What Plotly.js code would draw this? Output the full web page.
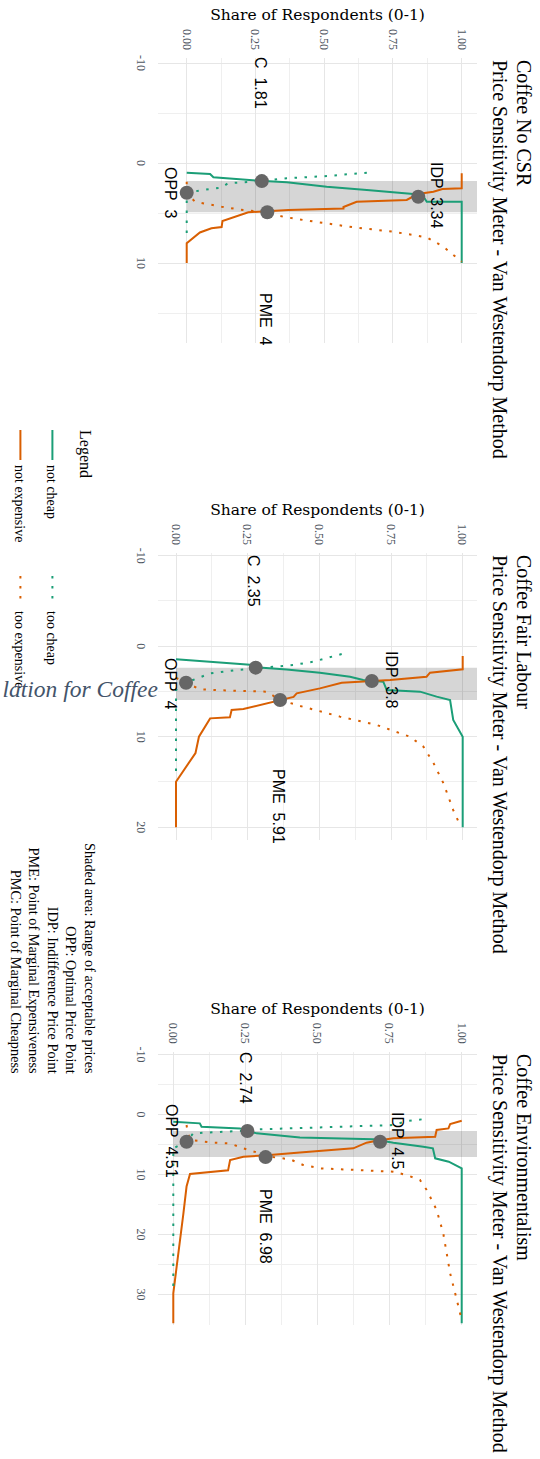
<!DOCTYPE html>
<html>
<head>
<meta charset="utf-8">
<script src="https://cdn.plot.ly/plotly-3.0.1.min.js"></script>
<style>
html,body{margin:0;padding:0;background:#ffffff;overflow:hidden;width:540px;height:1459px;}
#wrap{position:absolute;left:0;top:0;width:1459px;height:540px;transform-origin:0 0;}
</style>
</head>
<body>
<div id="wrap"></div>
<script>
// ---------------- DATA ----------------
const panelTitles = ["Coffee No CSR", "Coffee Fair Labour", "Coffee Environmentalism"];
const subtitle = "Price Sensitivity Meter - Van Westendorp Method";
const yTitle = "Share of Respondents (0-1)";
const legendTitle = "Legend";
const seriesNames = ["not cheap", "not expensive", "too cheap", "too expensive"];
const shareTicks = [0, 0.25, 0.5, 0.75, 1];
const shareTickText = ["0.00", "0.25", "0.50", "0.75", "1.00"];
const p1PriceTicks = [-10, 0, 10];
const p2PriceTicks = [-10, 0, 10, 20];
const p3PriceTicks = [-10, 0, 10, 20, 30];
const captionLines = ["Shaded area: Range of acceptable prices", "OPP: Optimal Price Point",
  "IDP: Indifference Price Point", "PME: Point of Marginal Expensiveness", "PMC: Point of Marginal Cheapness"];
const backgroundText = "lation for Coffee";

// Panel 1: Coffee No CSR
const p1NotCheapPrice = [0.97, 1.1, 1.43, 1.63, 1.77, 1.93, 2.37, 2.7, 2.93, 3.1, 3.37, 3.87, 3.87, 10.0];
const p1NotCheapShare = [0.0, 0.085, 0.097, 0.224, 0.267, 0.364, 0.509, 0.655, 0.752, 0.824, 0.861, 0.873, 1.0, 1.0];
const p1NotExpPrice = [1.03, 2.53, 2.6, 2.87, 3.1, 3.37, 3.7, 3.87, 4.4, 4.55, 4.7, 4.93, 5.8, 6.4, 6.53, 6.95, 8.03, 10.0];
const p1NotExpShare = [1.0, 1.0, 0.93, 0.897, 0.84, 0.824, 0.8, 0.618, 0.57, 0.57, 0.37, 0.224, 0.13, 0.127, 0.09, 0.048, 0.0, 0.0];
const p1TooCheapPrice = [0.97, 1.3, 1.53, 1.8, 2.03, 2.45, 2.7, 2.97, 7.6];
const p1TooCheapShare = [0.655, 0.51, 0.364, 0.27, 0.15, 0.127, 0.06, 0.0, 0.0];
const p1TooExpPrice = [1.87, 3.0, 3.87, 4.37, 4.7, 4.93, 5.37, 5.7, 6.43, 6.87, 7.43, 8.37, 9.87];
const p1TooExpShare = [0.0, 0.0, 0.03, 0.127, 0.206, 0.29, 0.35, 0.424, 0.606, 0.75, 0.873, 0.933, 1.0];
const p1PointPrice = [1.81, 2.97, 3.37, 4.93];
const p1PointShare = [0.273, 0.0, 0.842, 0.293];
const p1PointLabels = ["C  1.81", "OPP  3", "IDP  3.34", "PME  4"];
const p1Acceptable = [1.81, 4.93];

// Panel 2: Coffee Fair Labour
const p2NotCheapPrice = [1.45, 1.78, 2.08, 2.35, 2.56, 2.92, 3.37, 3.73, 3.92, 4.84, 5.02, 5.57, 5.94, 8.15, 10.0, 20.0];
const p2NotCheapShare = [0.0, 0.153, 0.27, 0.29, 0.386, 0.502, 0.607, 0.653, 0.723, 0.735, 0.851, 0.909, 0.956, 0.967, 1.0, 1.0];
const p2NotExpPrice = [1.08, 2.55, 2.92, 3.37, 3.73, 4.03, 4.66, 5.21, 5.6, 5.94, 6.94, 7.05, 7.86, 7.97, 10.0, 11.8, 14.97, 20.0];
const p2NotExpShare = [1.0, 1.0, 0.886, 0.874, 0.747, 0.578, 0.502, 0.421, 0.41, 0.363, 0.235, 0.194, 0.188, 0.119, 0.08, 0.068, 0.0, 0.0];
const p2TooCheapPrice = [0.86, 1.71, 2.08, 2.26, 2.45, 2.63, 3.0, 3.73, 4.03, 4.84, 14.6];
const p2TooCheapShare = [0.578, 0.479, 0.409, 0.34, 0.27, 0.21, 0.119, 0.06, 0.035, 0.0, 0.0];
const p2TooExpPrice = [3.5, 4.03, 4.77, 4.91, 5.02, 5.94, 6.6, 7.78, 8.7, 10.0, 11.1, 12.9, 15.15, 18.1, 19.7];
const p2TooExpShare = [0.0, 0.035, 0.084, 0.2, 0.316, 0.363, 0.433, 0.572, 0.7, 0.816, 0.863, 0.898, 0.933, 0.967, 0.99];
const p2PointPrice = [2.37, 4.03, 3.85, 5.94];
const p2PointShare = [0.278, 0.035, 0.683, 0.363];
const p2PointLabels = ["C  2.35", "OPP  4", "IDP  3.8", "PME  5.91"];
const p2Acceptable = [2.37, 5.94];

// Panel 3: Coffee Environmentalism
const p3NotCheapPrice = [1.19, 1.47, 2.03, 2.31, 3.14, 3.81, 4.14, 4.69, 5.36, 5.64, 7.3, 7.86, 8.97, 34.8];
const p3NotCheapShare = [0.0, 0.092, 0.098, 0.231, 0.289, 0.439, 0.694, 0.763, 0.867, 0.9, 0.908, 0.955, 1.0, 1.0];
const p3NotExpPrice = [1.03, 1.58, 2.31, 2.58, 3.69, 3.97, 4.36, 4.69, 5.64, 5.92, 6.31, 6.75, 7.03, 7.58, 9.3, 9.9, 12.0, 16.5, 22.3, 29.8, 34.8];
const p3NotExpShare = [1.0, 0.96, 0.954, 0.913, 0.908, 0.763, 0.705, 0.67, 0.624, 0.532, 0.439, 0.335, 0.243, 0.197, 0.19, 0.058, 0.046, 0.035, 0.02, 0.0, 0.0];
const p3TooCheapPrice = [0.81, 1.08, 1.75, 2.47, 2.7, 2.86, 3.14, 4.53, 5.64, 29.5];
const p3TooCheapShare = [0.861, 0.81, 0.763, 0.3, 0.243, 0.162, 0.069, 0.046, 0.0, 0.0];
const p3TooExpPrice = [1.75, 3.0, 4.25, 4.69, 4.83, 5.64, 6.47, 7.0, 7.47, 8.4, 8.97, 9.25, 9.53, 10.1, 10.9, 12.6, 15.9, 19.8, 26.5, 30.9, 34.25];
const p3TooExpShare = [0.046, 0.05, 0.06, 0.139, 0.197, 0.243, 0.3, 0.33, 0.405, 0.45, 0.509, 0.647, 0.763, 0.809, 0.855, 0.879, 0.913, 0.936, 0.96, 0.983, 1.0];
const p3PointPrice = [2.75, 4.53, 4.53, 7.1];
const p3PointShare = [0.257, 0.046, 0.717, 0.32];
const p3PointLabels = ["C  2.74", "OPP  4.51", "IDP  4.5", "PME  6.98"];
const p3Acceptable = [2.75, 7.1];

// ---------------- LAYOUT GEOMETRY (pixels of the unrotated 1459x540 figure) ----------------
const W = 1459, H = 540;
const GREEN = "#1b9e77", ORANGE = "#d95f02";
const SERIF = "Liberation Serif, Times New Roman, serif";
const SANS = "Liberation Sans, Arial, sans-serif";
const panelU = [[58, 343], [553, 840], [1051.7, 1325]];
const panelV = [63, 382];
const xRanges = [[-10.5, 18.0], [-10.3, 21.41], [-10.47, 35.08]];
const yRanges = [[-0.1044, 1.0556], [-0.0628, 1.0499], [-0.053, 1.053]];
const labelPos = [
  [[-8.05, 0.267], [2.95, -0.058], [3.2, 0.909], [15.6, 0.285]],
  [[-7.26, 0.272], [4.07, -0.02], [3.73, 0.752], [17.7, 0.356]],
  [[-6.17, 0.249], [4.39, -0.006], [4.39, 0.779], [18.7, 0.318]]
];
// legend boxes: [left u, top v] for each series
const legendBoxes = [[425, 472], [425, 504], [571, 472], [571, 504]];
const legendIds = ["legend", "legend3", "legend2", "legend4"];

const panels = [
  {series: [[p1NotCheapPrice, p1NotCheapShare], [p1NotExpPrice, p1NotExpShare], [p1TooCheapPrice, p1TooCheapShare], [p1TooExpPrice, p1TooExpShare]],
   pts: [p1PointPrice, p1PointShare], labels: p1PointLabels, acc: p1Acceptable, ticks: p1PriceTicks},
  {series: [[p2NotCheapPrice, p2NotCheapShare], [p2NotExpPrice, p2NotExpShare], [p2TooCheapPrice, p2TooCheapShare], [p2TooExpPrice, p2TooExpShare]],
   pts: [p2PointPrice, p2PointShare], labels: p2PointLabels, acc: p2Acceptable, ticks: p2PriceTicks},
  {series: [[p3NotCheapPrice, p3NotCheapShare], [p3NotExpPrice, p3NotExpShare], [p3TooCheapPrice, p3TooCheapShare], [p3TooExpPrice, p3TooExpShare]],
   pts: [p3PointPrice, p3PointShare], labels: p3PointLabels, acc: p3Acceptable, ticks: p3PriceTicks}
];

const styles = [
  {color: GREEN, dash: "solid"},
  {color: ORANGE, dash: "solid"},
  {color: GREEN, dash: "2.5px,7.5px"},
  {color: ORANGE, dash: "2.5px,7.5px"}
];

const traces = [];
const shapes = [];
const annotations = [];
const layout = {
  width: W, height: H,
  margin: {l: 0, r: 0, t: 0, b: 0},
  paper_bgcolor: "#ffffff", plot_bgcolor: "#ffffff",
  font: {family: SERIF, color: "#000000"},
  showlegend: true,
  shapes: shapes,
  annotations: annotations
};
legendIds.forEach((id, j) => {
  layout[id] = {
    x: legendBoxes[j][0] / W, xanchor: "left", y: 1 - legendBoxes[j][1] / H, yanchor: "top",
    font: {family: SERIF, size: 14, color: "#000"},
    itemwidth: 30, bgcolor: "rgba(0,0,0,0)"
  };
});

panels.forEach((p, i) => {
  const k = i === 0 ? "" : String(i + 1);
  const xa = "x" + k, ya = "y" + k;
  layout["xaxis" + k] = {
    domain: [panelU[i][0] / W, panelU[i][1] / W],
    range: xRanges[i], anchor: ya,
    tickvals: p.ticks, ticktext: p.ticks.map(t => String(t)),
    tickfont: {family: SERIF, size: 12, color: "#4d5560"},
    ticklabelstandoff: 8,
    showgrid: true, gridcolor: "#e6e6e6", gridwidth: 1,
    minor: {dtick: 5, tick0: 0, showgrid: true, gridcolor: "#efefef", gridwidth: 1},
    zeroline: false, showline: false, ticks: "", fixedrange: true
  };
  layout["yaxis" + k] = {
    domain: [1 - panelV[1] / H, 1 - panelV[0] / H],
    range: yRanges[i], anchor: xa,
    tickvals: shareTicks, ticktext: shareTickText,
    tickfont: {family: SERIF, size: 12, color: "#4d5560"},
    ticklabelstandoff: 7,
    title: {text: yTitle, font: {family: "DejaVu Serif, serif", size: 15.5, color: "#000"}, standoff: 4},
    showgrid: true, gridcolor: "#e6e6e6", gridwidth: 1,
    minor: {dtick: 0.125, tick0: 0, showgrid: true, gridcolor: "#efefef", gridwidth: 1},
    zeroline: false, showline: false, ticks: "", fixedrange: true
  };

  // acceptable range shading
  shapes.push({type: "rect", xref: xa, yref: ya, x0: p.acc[0], x1: p.acc[1], y0: 0, y1: yRanges[i][1],
    fillcolor: "rgba(0,0,0,0.16)", line: {width: 0}, layer: "between"});

  p.series.forEach((s, j) => {
    traces.push({
      type: "scatter", mode: "lines", x: s[0], y: s[1], xaxis: xa, yaxis: ya,
      name: seriesNames[j], legendgroup: seriesNames[j], legend: legendIds[j],
      showlegend: i === 0,
      line: {color: styles[j].color, width: 2, dash: styles[j].dash}
    });
  });

  traces.push({
    type: "scatter", mode: "markers", x: p.pts[0], y: p.pts[1], xaxis: xa, yaxis: ya,
    showlegend: false, marker: {color: "#666666", size: 14}
  });

  p.labels.forEach((t, j) => {
    annotations.push({xref: xa, yref: ya, x: labelPos[i][j][0], y: labelPos[i][j][1], text: t,
      showarrow: false, xanchor: "center", yanchor: "middle",
      font: {family: SANS, size: 16, color: "#000"}});
  });

  annotations.push({xref: "paper", yref: "paper", x: panelU[i][0] / W, y: 1 - 16 / H, text: panelTitles[i],
    showarrow: false, xanchor: "left", yanchor: "middle", font: {family: SERIF, size: 20, color: "#000"}});
  annotations.push({xref: "paper", yref: "paper", x: panelU[i][0] / W, y: 1 - 40 / H, text: subtitle,
    showarrow: false, xanchor: "left", yanchor: "middle", font: {family: SERIF, size: 20, color: "#000"}});
});

// legend title
annotations.push({xref: "paper", yref: "paper", x: 428 / W, y: 1 - 455 / H, text: legendTitle,
  showarrow: false, xanchor: "left", yanchor: "middle", font: {family: SERIF, size: 16, color: "#000"}});

annotations.push({xref: "paper", yref: "paper", x: 1076 / W, y: 1 - 487 / H, text: captionLines.join("<br>"),
  showarrow: false, xanchor: "right", yanchor: "middle", align: "right",
  font: {family: SERIF, size: 14.3, color: "#000"}});

annotations.push({xref: "paper", yref: "paper", x: 688 / W, y: 0, text: backgroundText,
  showarrow: false, xanchor: "center", yanchor: "bottom", textangle: -90,
  font: {family: SERIF, size: 23.5, color: "#44546a", style: "italic"}});

const wrap = document.getElementById("wrap");
Plotly.newPlot(wrap, traces, layout, {displayModeBar: false, staticPlot: true}).then(() => {
  wrap.style.transform = "translate(540px,0) rotate(90deg)";
});
</script>
</body>
</html>
